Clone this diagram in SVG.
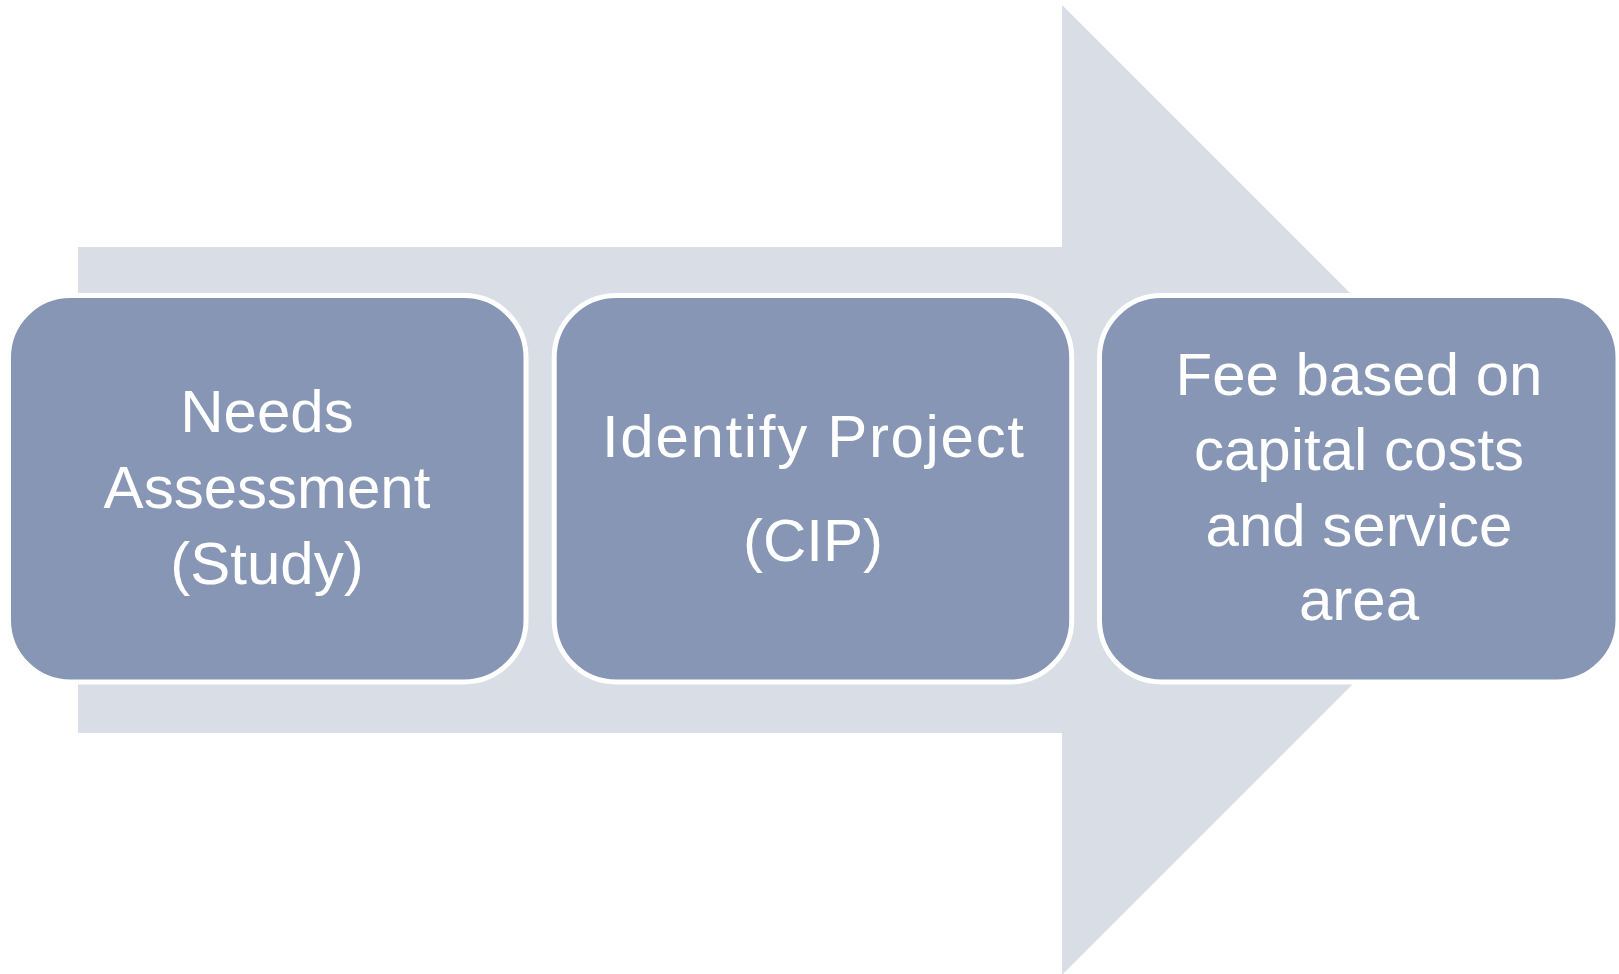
<svg xmlns="http://www.w3.org/2000/svg" width="1619" height="974" viewBox="0 0 1619 974">
  <style>
    .box { fill: #8796b5; stroke: #ffffff; stroke-width: 5; }
    .lbl { font-family: "Liberation Sans", Arial, sans-serif; font-size: 60px; fill: #ffffff; text-anchor: middle; }
    .bg { fill: #d9dde6; }
  </style>
  <rect width="1619" height="974" fill="#ffffff"/>
  <g id="background-arrow">
    <polygon class="bg" points="78,247 1062,247 1062,5 1547,490 1062,975 1062,733 78,733"/>
  </g>
  <g id="connectors"></g>
  <g id="node-needs">
    <rect class="box" x="8.5" y="295.5" width="517.5" height="386.5" rx="62" ry="62"/>
    <text class="lbl" x="267" y="432">Needs</text>
    <text class="lbl" x="267" y="508">Assessment</text>
    <text class="lbl" x="267" y="584">(Study)</text>
  </g>
  <g id="node-identify">
    <rect class="box" x="554.2" y="295.5" width="517.5" height="386.5" rx="62" ry="62"/>
    <text class="lbl" x="813" y="457" textLength="422" lengthAdjust="spacing">Identify Project</text>
    <text class="lbl" x="813" y="561">(CIP)</text>
  </g>
  <g id="node-fee">
    <rect class="box" x="1099.5" y="295.5" width="518.5" height="386.5" rx="62" ry="62"/>
    <text class="lbl" x="1359" y="395">Fee based on</text>
    <text class="lbl" x="1359" y="470">capital costs</text>
    <text class="lbl" x="1359" y="546">and service</text>
    <text class="lbl" x="1359" y="620">area</text>
  </g>
</svg>
